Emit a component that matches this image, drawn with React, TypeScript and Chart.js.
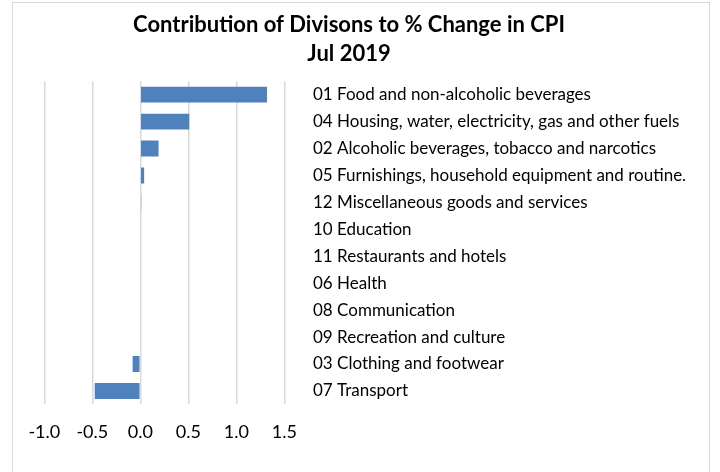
import React, { useEffect, useRef } from 'react';
import { Chart, registerables } from 'chart.js';

Chart.register(...registerables);

const titleLines = ['Contribution of Divisons to % Change in CPI', 'Jul 2019'];

const categories = [
  '01 Food and non-alcoholic beverages',
  '04 Housing, water, electricity, gas and other fuels',
  '02 Alcoholic beverages, tobacco and narcotics',
  '05 Furnishings, household equipment and routine.',
  '12 Miscellaneous goods and services',
  '10 Education',
  '11 Restaurants and hotels',
  '06 Health',
  '08 Communication',
  '09 Recreation and culture',
  '03 Clothing and footwear',
  '07 Transport',
];

const contributions = [1.32, 0.51, 0.19, 0.04, 0.01, 0, 0, 0, 0, 0, -0.08, -0.475];

const xMin = -1.0;
const xMax = 1.5;
const xStep = 0.5;

const FONT = 'Lato, "Open Sans", sans-serif';

export default function App() {
  const canvasRef = useRef<HTMLCanvasElement | null>(null);

  useEffect(() => {
    const canvas = canvasRef.current;
    if (!canvas) return;
    const chart = new Chart(canvas, {
      type: 'bar',
      data: {
        labels: categories,
        datasets: [
          {
            data: contributions,
            backgroundColor: '#4f81bd',
            borderWidth: 0,
            categoryPercentage: 1,
            barPercentage: 0.59,
          },
        ],
      },
      options: {
        indexAxis: 'y',
        responsive: false,
        animation: false,
        devicePixelRatio: 1,
        layout: { padding: { left: 12, right: 34, top: 0, bottom: 12 } },
        plugins: {
          legend: { display: false },
          tooltip: { enabled: false },
          title: {
            display: true,
            text: titleLines,
            color: '#000000',
            font: { family: FONT, size: 22, weight: 'bold', lineHeight: 1.3 },
            padding: { top: 11, bottom: 13 },
          },
        },
        scales: {
          x: {
            type: 'linear',
            min: xMin,
            max: xMax,
            border: { display: false },
            grid: { color: '#d9d9d9', lineWidth: 1.5, drawTicks: false },
            ticks: {
              stepSize: xStep,
              padding: 17,
              color: '#000000',
              font: { family: FONT, size: 18 },
              maxRotation: 0,
              callback: (v: any) => Number(v).toFixed(1),
            },
            afterFit: (scale: any) => {
              scale.paddingLeft = 44.3;
            },
          },
          y: {
            type: 'category',
            position: 'right',
            border: { display: false },
            grid: { display: false, drawTicks: false },
            ticks: {
              padding: 28.7,
              color: '#000000',
              font: { family: FONT, size: 17 },
              autoSkip: false,
            },
            afterFit: (scale: any) => {
              scale.width = 401.7;
            },
          },
        },
      },
    });
    return () => chart.destroy();
  }, []);

  return (
    <div
      style={{
        position: 'fixed',
        left: 0,
        top: 0,
        width: 720,
        height: 472,
        overflow: 'hidden',
        background: '#ffffff',
      }}
    >
      <div
        style={{
          position: 'absolute',
          left: 12,
          top: 2,
          width: 698,
          height: 500,
          border: '1px solid #d9d9d9',
          boxSizing: 'border-box',
        }}
      />
      <canvas
        ref={canvasRef}
        width={720}
        height={472}
        style={{ position: 'absolute', left: 0, top: 0, width: 720, height: 472 }}
      />
    </div>
  );
}
